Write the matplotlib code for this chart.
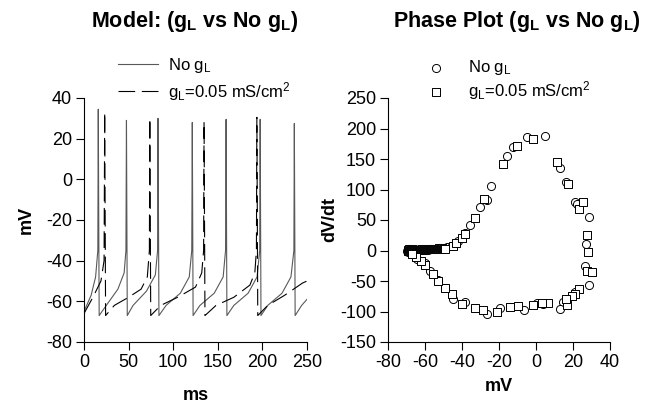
import matplotlib
matplotlib.use("Agg")
import matplotlib.pyplot as plt

plt.rcParams['font.family'] = ['Liberation Sans', 'DejaVu Sans']
plt.rcParams['mathtext.fontset'] = 'custom'
plt.rcParams['mathtext.rm'] = 'Liberation Sans'
plt.rcParams['mathtext.it'] = 'Liberation Sans'
plt.rcParams['mathtext.bf'] = 'Liberation Sans:bold'
plt.rcParams['axes.unicode_minus'] = False

# membrane voltage traces (ms, mV)
t_nogl = [0, 8, 13, 15.5, 16, 17, 25, 38, 45, 47, 47.6, 48.5, 55, 70, 80, 82.5, 83, 84,
          92, 108, 118, 120.8, 121.4, 122.3, 130, 146, 156, 158.7, 159.3, 160.2,
          168, 184, 194, 197, 197.5, 198.4, 206, 222, 232, 235.3, 235.8, 236.7, 244, 250]
v_nogl = [-65, -57, -48, -35, 34.5, -67, -62, -54, -46, -35, 29, -67, -62, -55, -47, -35, 30, -67,
          -62, -56, -48, -35, 28, -67, -62, -56, -48, -35, 29.5, -67,
          -62, -56, -48, -35, 29.5, -67, -62, -56, -48, -35, 27.5, -67, -62, -59]

t_gl = [0, 10, 19, 22.5, 23.2, 24.2, 34, 50, 64, 71, 73.3, 73.8, 74.8, 86, 105, 125, 132,
        134.1, 134.6, 135.6, 148, 168, 186, 191.5, 193.3, 193.8, 194.8, 206, 225, 245, 250]
v_gl = [-66, -58, -50, -40, 33, -67, -62, -58, -54, -48, -35, 30, -67, -62, -58, -53, -46,
        -35, 28.5, -67, -62, -58, -52, -46, -35, 30.5, -67, -62, -57, -51, -50]

# phase plot points (mV, dV/dt); the resting band near -69..-50 mV is very dense
ph_nogl_v = [-69.5, -69.2, -69, -68.8, -68.6, -68.4, -68.2, -68, -67.7, -67.4, -67.1, -66.8,
             -66.5, -66.1, -65.7, -65.3, -64.9, -64.5, -64, -63.5, -63, -62.5, -62, -61.5,
             -61, -60.5, -60, -59.5, -59, -58.5, -58, -57.5, -57, -56.5, -56, -55.5, -55,
             -54.5, -54, -53.5, -53, -52.5, -52, -51.5, -51,
             -48, -45.6, -42, -38.5, -35.7, -30.3, -26.7, -24.5,
             -15.8, -12.4, -4.7, 4.9, 13, 16.2, 21.1, 22.4, 28.8, 27, 26.5, 28.8, 21, 14.8, 13,
             4, 0.3, -6.3, -14, -19.5, -26.7, -33, -38.4, -44.7, -49, -52.8, -57.3, -60, -64.5, -67]
ph_nogl_d = [0, 2, -2, 1, 3, -1, 0, 2, -2, 1, 0, 2,
             -1, 1, 0, 2, 0.5, 1, 1, 0.5, 1.5, 1, 1.5, 1,
             1.5, 1, 2, 1.5, 2, 1.5, 2, 2.5, 2, 2.5, 2.5, 2.5, 3,
             2.5, 3, 3, 3, 3.5, 3.5, 3.5, 4,
             5, 8, 15, 28, 42, 71, 82, 105,
             155, 169, 186, 187, 135, 113, 79, 76, 55, 11, -25, -56, -68, -85, -96,
             -88, -86, -97, -92, -94, -104, -94, -85, -79, -61, -49, -33, -21, -14, -6]

ph_gl_v = [-69.3, -69, -68.7, -68.4, -68.1, -67.8, -67.5, -67.2, -66.8, -66.4, -66, -65.5,
           -65, -64.5, -64, -63.5, -63, -62.5, -62, -61.5, -61, -60.5, -60, -59.5, -59,
           -58.5, -58, -57.5, -57, -56.5, -56, -55.5, -55, -54.5, -54, -53.5, -53, -52.5,
           -52, -51.5, -51, -50.5, -50, -49.2,
           -45, -43, -40, -38.4, -33, -27.9, -17.7, -10.4, -1.5, 11.2, 17.5, 23.4, 25.2,
           27.4, 28, 27.4, 30.1, 23.4, 21, 19.5, 16.6, 16, 6.7, 3.5, -1.5, -9.5, -14,
           -20.9, -28.5, -33, -40.2, -45.6, -49, -52.8, -55.5, -60, -62, -65, -67]
ph_gl_d = [1, -1, 2, 0, 1, -1, 1, 0, 1, 0.5, 1, 1.5,
           1, 1.5, 1, 1.5, 1, 1.5, 1.5, 2, 1.5, 2, 2, 2, 2,
           2.5, 2, 2.5, 2.5, 2.5, 2.5, 3, 2.5, 3, 3, 3, 3, 3.5,
           3, 3.5, 3.5, 3, 2.5, 2,
           8, 13, 20, 27, 54, 85, 141, 171, 183, 145, 109, 68, 80,
           25, -3, -33, -36, -63, -71, -75, -90, -80, -86, -86, -90, -91, -92,
           -100, -97, -94, -87, -71, -62, -50, -38, -24, -17, -10, -5]

lbl_nogl = r'No g$_{\mathrm{L}}$'
lbl_gl = r'g$_{\mathrm{L}}$=0.05 mS/cm$^{2}$'

fig = plt.figure(figsize=(6.54, 4.07), dpi=100)
W, H = 654, 407

def box(x0, x1, y0, y1):
    return [x0 / W, 1 - y1 / H, (x1 - x0) / W, (y1 - y0) / H]

ax1 = fig.add_axes(box(84, 307, 98, 342))
ax2 = fig.add_axes(box(388, 610, 98, 342))

for ax in (ax1, ax2):
    ax.spines['top'].set_visible(False)
    ax.spines['right'].set_visible(False)
    for s in ('left', 'bottom'):
        ax.spines[s].set_linewidth(0.8)
    ax.tick_params(direction='out', length=5.5, width=0.8, labelsize=13, pad=3)

# left: voltage traces
ax1.plot(t_nogl, v_nogl, color='0.35', lw=0.8, label=lbl_nogl)
ax1.plot(t_gl, v_gl, color='black', lw=0.8, dashes=(15, 6), label=lbl_gl)
ax1.set_xlim(0, 250)
ax1.set_ylim(-80, 40)
ax1.set_xticks([0, 50, 100, 150, 200, 250])
ax1.set_yticks([-80, -60, -40, -20, 0, 20, 40])
ax1.set_xlabel('ms', fontsize=13, fontweight='bold', labelpad=12)
ax1.set_ylabel('mV', fontsize=13, fontweight='bold', labelpad=8)
ax1.legend(loc='upper left', bbox_to_anchor=(118 / W, 1 - 56 / H), bbox_transform=fig.transFigure,
           frameon=False, borderpad=0, borderaxespad=0, handlelength=2.4, handletextpad=0.6,
           labelspacing=0.3, fontsize=12)

# right: phase plot
ax2.scatter(ph_nogl_v, ph_nogl_d, s=34, marker='o', facecolors='white', edgecolors='black',
            linewidths=0.7, label=lbl_nogl, zorder=3)
ax2.scatter(ph_gl_v, ph_gl_d, s=32, marker='s', facecolors='white', edgecolors='black',
            linewidths=0.7, label=lbl_gl, zorder=3)
ax2.set_xlim(-80, 40)
ax2.set_ylim(-150, 250)
ax2.set_xticks([-80, -60, -40, -20, 0, 20, 40])
ax2.set_yticks([-150, -100, -50, 0, 50, 100, 150, 200, 250])
ax2.set_xlabel('mV', fontsize=13, fontweight='bold', labelpad=5)
ax2.set_ylabel('dV/dt', fontsize=13, fontweight='bold', labelpad=1)
ax2.legend(loc='upper left', bbox_to_anchor=(423 / W, 1 - 58 / H), bbox_transform=fig.transFigure,
           frameon=False, borderpad=0, borderaxespad=0, handlelength=1.6, handletextpad=1.1,
           labelspacing=0.1, fontsize=12)

fig.text(195 / W, 1 - 22 / H, r'Model: (g$_{\mathbf{L}}$ vs No g$_{\mathbf{L}}$)',
         ha='center', va='center', fontsize=15.5, fontweight='bold')
fig.text(517 / W, 1 - 22 / H, r'Phase Plot (g$_{\mathbf{L}}$ vs No g$_{\mathbf{L}}$)',
         ha='center', va='center', fontsize=15.5, fontweight='bold')

fig.savefig('out.png', dpi=100)
